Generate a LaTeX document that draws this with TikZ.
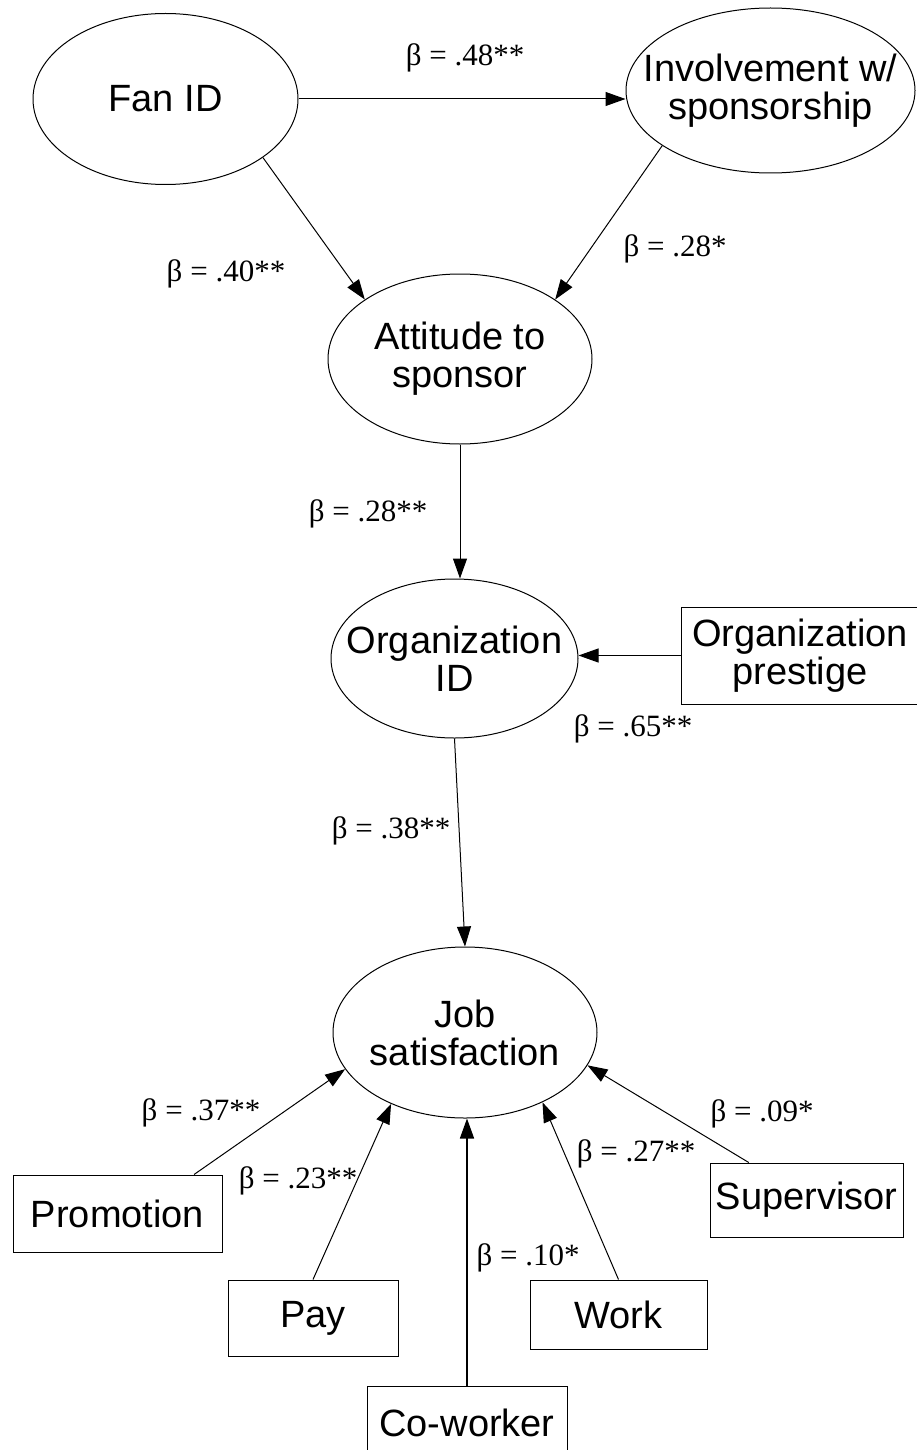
\documentclass[tikz,border=0pt]{standalone}
\usepackage{fontspec}
\setmainfont{Liberation Serif}
\newfontfamily\sansfont{Liberation Sans}
\usetikzlibrary{shapes.geometric,arrows.meta}
\begin{document}
\begin{tikzpicture}[x=1pt,y=-1pt,
  latent/.style={ellipse,draw,line width=1pt,inner xsep=-60pt,inner ysep=-40pt,
    align=center,font=\sansfont\fontsize{38}{38}\selectfont},
  observed/.style={rectangle,draw,line width=1pt,inner sep=0pt,
    align=center,font=\sansfont\fontsize{38}{38}\selectfont},
  coef/.style={inner sep=0pt,font=\fontsize{31}{31}\selectfont},
  link/.style={line width=1pt,-{Triangle[length=20pt,width=14pt]}}]
\useasboundingbox (0,0) rectangle (917,1450);
\clip (0,0) rectangle (917,1450);

% latent constructs
\node[latent,minimum width=265pt,minimum height=171pt] (fan) at (165.5,99) {Fan ID};
\node[latent,minimum width=289pt,minimum height=165pt] (inv) at (770.5,90.5) {Involvement w/\\sponsorship};
\node[latent,minimum width=264pt,minimum height=170pt] (att) at (460,359) {Attitude to\\sponsor};
\node[latent,minimum width=247pt,minimum height=159pt] (org) at (454.5,658.5) {Organization\\ID};
\node[latent,minimum width=264pt,minimum height=171pt] (job) at (465,1032.5) {Job\\satisfaction};

% observed predictors
\node[observed,minimum width=238pt,minimum height=97pt] (prestige) at (800,655.5) {Organization\\prestige};
\node[observed,minimum width=209pt,minimum height=77pt] (promo) at (117.5,1213.5) {Promotion};
\node[observed,minimum width=170pt,minimum height=76pt] (pay) at (313,1318) {Pay};
\node[observed,minimum width=200pt,minimum height=74pt] (co) at (467,1423) {Co-worker};
\node[observed,minimum width=177pt,minimum height=69pt] (work) at (618.5,1314.5) {Work};
\node[observed,minimum width=193pt,minimum height=74pt] (sup) at (806.5,1200) {Supervisor};

% structural paths
\draw[link] (fan.east) -- (fan.east -| inv.west);
\draw[link] (fan.-31.5) -- (att.148.7);
\draw[link] (inv.-153.1) -- (att.32.3);
\draw[link] (att.south) -- (att.south |- org.north);
\draw[link] (org.south) -- (job.north);
\draw[link] (prestige.west) -- (prestige.west -| org.east);
\draw[link] (promo.27.3) -- (job.197.3);
\draw[link] (pay.north) -- (job.224.3);
\draw[link,line width=1.6pt] (co.north) -- (co.north |- job.south);
\draw[link] (work.north) -- (job.-42.4);
\draw[link] (sup.147.7) -- (job.-15.8);

% path coefficients
\node[coef] (c48) at (465,58) {β = .48**};
\node[coef] (c40) at (226,274) {β = .40**};
\node[coef] (c28a) at (675,249) {β = .28*};
\node[coef] (c28b) at (368,514) {β = .28**};
\node[coef] (c65) at (633,729) {β = .65**};
\node[coef] (c38) at (391,831) {β = .38**};
\node[coef] (c37) at (201,1113) {β = .37**};
\node[coef] (c23) at (298,1181) {β = .23**};
\node[coef] (c10) at (528,1258) {β = .10*};
\node[coef] (c27) at (636,1154) {β = .27**};
\node[coef] (c09) at (762,1114) {β = .09*};
\end{tikzpicture}
\end{document}
